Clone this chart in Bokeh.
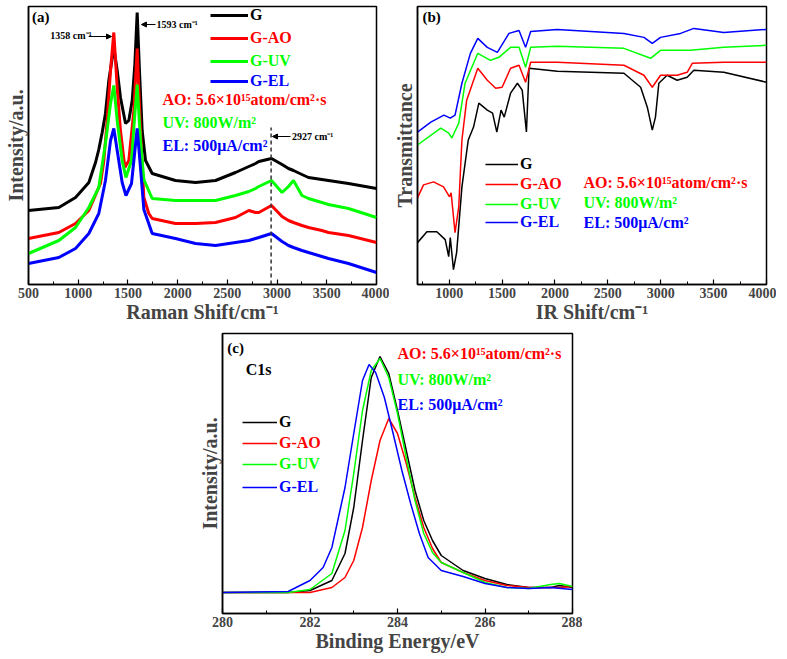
from bokeh.plotting import figure
from bokeh.models import (Legend, LegendItem, Label, Arrow, NormalHead, FixedTicker,
                          SingleIntervalTicker, Spacer)
from bokeh.layouts import row, column
from bokeh.embed import file_html
from bokeh.resources import INLINE

FONT = "Liberation Serif"

series_names = ["G", "G-AO", "G-UV", "G-EL"]
series_colors = ["#000000", "#ff0000", "#00ff00", "#0000ff"]

# ---------------- (a) Raman ----------------
raman_tail_x = [1978, 2180, 2381, 2582, 2716, 2783, 2817, 2944, 3050, 3115, 3165,
                3250, 3316, 3450, 3517, 3718, 4000]

raman_x_G = [500, 805, 973, 1107, 1174, 1207, 1241, 1274, 1308, 1358, 1392, 1425, 1476, 1509,
             1543, 1570, 1593, 1616, 1643, 1677, 1744] + raman_tail_x
raman_G = [74, 77, 87, 102, 122, 135, 152, 171, 204, 237, 214, 187, 161, 164,
           184, 221, 272, 214, 154, 124, 111,
           104, 102, 104, 112, 118, 121, 123, 126, 120, 116, 114, 110, 107, 105, 104, 101, 96]

raman_x_AO = [500, 805, 973, 1107, 1224, 1258, 1291, 1325, 1358, 1392, 1425, 1469, 1509, 1560,
              1593, 1626, 1660, 1710, 1744] + raman_tail_x
raman_AO = [46, 52, 61, 74, 101, 124, 164, 214, 252, 197, 154, 117, 124, 174,
            236, 154, 87, 71, 66,
            61, 61, 62, 67, 74, 72, 72, 79, 68, 64, 62, 59, 57, 54, 52, 49, 42]

raman_x_UV = [500, 805, 973, 1107, 1207, 1274, 1325, 1358, 1392, 1442, 1480, 1536, 1570, 1593,
              1626, 1660, 1744] + raman_tail_x
raman_UV = [31, 44, 57, 77, 97, 141, 181, 199, 164, 124, 107, 124, 171, 200,
            144, 105, 86,
            84, 84, 84, 89, 93, 96, 98, 104, 92, 98, 104, 89, 86, 82, 80, 76, 67]

raman_x_EL = [500, 805, 973, 1107, 1207, 1274, 1325, 1358, 1392, 1442, 1480, 1536, 1570, 1593,
              1626, 1660, 1744] + raman_tail_x
raman_EL = [21, 27, 36, 51, 71, 104, 144, 156, 134, 102, 89, 101, 134, 156,
            117, 75, 51,
            46, 41, 39, 42, 44, 46, 47, 51, 43, 39, 37, 34, 32, 28, 26, 21, 12]

raman_marker_x = 2940
raman_marker_top = 157

# ---------------- (b) IR ----------------
ir_x_G = [700, 789, 883, 962, 995, 1010, 1040, 1070, 1120, 1180, 1230, 1280, 1360, 1410, 1450,
          1490, 1520, 1580, 1645, 1690, 1730, 1755, 2022, 2652, 2810, 2873, 2920, 2950, 2982,
          3060, 3155, 3250, 3313, 3596, 4000]
ir_G = [42, 53, 53, 45, 28, 47, 15, 32, 98, 145, 158, 182, 175, 172, 153,
        175, 168, 192, 202, 195, 153, 217, 214, 212, 198, 178, 155, 168, 202,
        210, 205, 208, 215, 213, 203]
ir_x_AO = [700, 757, 852, 946, 1003, 1018, 1055, 1090, 1120, 1165, 1270, 1360, 1440, 1500,
           1580, 1660, 1722, 1770, 2022, 2652, 2841, 2920, 2998, 3155, 3250, 3298, 3596, 4000]
ir_AO = [87, 100, 103, 98, 88, 92, 52, 78, 145, 185, 217, 205, 197, 198,
         217, 220, 203, 223, 223, 220, 210, 198, 210, 210, 213, 222, 223, 223]
ir_x_UV = [700, 920, 995, 1025, 1090, 1150, 1270, 1390, 1470, 1580, 1660, 1722, 1770, 2022,
           2652, 2904, 2998, 3282, 3596, 4000]
ir_UV = [140, 157, 152, 147, 162, 202, 232, 225, 228, 238, 238, 218, 238, 239,
         237, 227, 235, 235, 238, 240]
ir_x_EL = [700, 826, 950, 1010, 1055, 1120, 1200, 1270, 1360, 1455, 1565, 1660, 1722, 1770,
           2022, 2652, 2841, 2920, 2998, 3187, 3313, 3596, 4000]
ir_EL = [153, 163, 170, 167, 170, 202, 232, 247, 238, 233, 252, 255, 238, 254,
         256, 252, 248, 242, 248, 252, 257, 253, 256]

# ---------------- (c) XPS C1s ----------------
xps_x = [280, 281.5, 282, 282.5, 282.8, 283, 283.2, 283.4, 283.6, 283.8, 284, 284.2, 284.4,
         284.6, 284.8, 285, 285.5, 286, 286.5, 287, 287.5, 287.7, 288]
xps_G = [21, 21, 23, 33, 60, 106, 173, 236, 257, 240, 203, 163, 123,
         93, 73, 58, 43, 35, 29, 26, 26, 28, 26]
xps_AO = [21, 21, 21, 26, 36, 53, 86, 133, 173, 195, 180, 150, 116,
          86, 65, 51, 41, 33, 28, 26, 26, 26, 27]
xps_UV = [21, 21, 24, 40, 83, 140, 203, 243, 255, 236, 200, 156, 113,
          80, 61, 51, 41, 31, 26, 25, 29, 30, 27]
xps_x_EL = [280, 281.5, 282, 282.3, 282.5, 282.8, 283, 283.2, 283.35, 283.5, 283.7, 283.9,
            284.1, 284.3, 284.5, 284.7, 285, 285.5, 286, 286.5, 287, 287.5, 288]
xps_EL = [21, 22, 33, 46, 66, 126, 180, 233, 249, 241, 216, 180,
          143, 110, 80, 56, 43, 37, 30, 26, 25, 26, 24]

cond_texts = ["AO: 5.6×10¹⁵atom/cm²·s", "UV: 800W/m²", "EL: 500μA/cm²"]
cond_colors = ["#ff0000", "#00ff00", "#0000ff"]


def style(p, xlabel, ylabel, interval):
    p.xgrid.visible = False
    p.ygrid.visible = False
    p.outline_line_color = "black"
    p.outline_line_width = 1.5
    p.outline_line_alpha = 1
    p.background_fill_color = "white"
    p.border_fill_color = "white"
    xa = p.xaxis[0]
    xa.ticker = SingleIntervalTicker(interval=interval, num_minor_ticks=2)
    xa.axis_label = xlabel
    xa.axis_label_text_font = FONT
    xa.axis_label_text_font_style = "bold"
    xa.axis_label_text_font_size = "20px"
    xa.axis_label_standoff = 0
    xa.major_label_text_font = FONT
    xa.major_label_text_font_style = "bold"
    xa.major_label_text_font_size = "14px"
    xa.major_label_standoff = 3
    xa.major_tick_in = 5
    xa.major_tick_out = 0
    xa.minor_tick_in = 3
    xa.minor_tick_out = 0
    xa.axis_line_width = 1.5
    xa.major_tick_line_width = 1.2
    ya = p.yaxis[0]
    ya.ticker = FixedTicker(ticks=[], minor_ticks=[])
    ya.axis_label = ylabel
    ya.axis_label_text_font = FONT
    ya.axis_label_text_font_style = "bold"
    ya.axis_label_text_font_size = "20px"
    ya.axis_label_standoff = 2
    ya.major_label_text_font_size = "0px"
    ya.major_label_standoff = 0
    ya.axis_line_width = 1.5


def add_legend(p, renderer, label, color, x, y, glyph_w):
    lg = Legend(items=[LegendItem(label=label, renderers=[renderer])], location=(x, y),
                label_text_color=color, label_text_font=FONT, label_text_font_style="bold",
                label_text_font_size="16px", glyph_width=glyph_w, glyph_height=20,
                label_height=20, label_standoff=2, padding=0, margin=0, spacing=0,
                border_line_alpha=0, background_fill_alpha=0)
    p.add_layout(lg, "center")


def label(p, x, y, text, color="black", size="16px"):
    p.add_layout(Label(x=x, y=y, text=text, text_color=color, text_font=FONT,
                       text_font_style="bold", text_font_size=size,
                       text_baseline="middle", text_align="left"))


def arrow(p, x0, y0, x1, y1):
    p.add_layout(Arrow(end=NormalHead(size=5, fill_color="black", line_color="black"),
                       x_start=x0, y_start=y0, x_end=x1, y_end=y1,
                       line_color="black", line_width=1))


common = dict(output_backend="svg", toolbar_location=None)

# ---- panel a
pa = figure(width=389, height=326, x_range=(500, 4000), y_range=(0, 278),
            min_border_left=28, min_border_right=13, min_border_top=6, min_border_bottom=42,
            **common)
style(pa, "Raman Shift/cm⁻¹", "Intensity/a.u.", 500)
ra = []
for xs, ys, c in zip([raman_x_G, raman_x_AO, raman_x_UV, raman_x_EL],
                     [raman_G, raman_AO, raman_UV, raman_EL], series_colors):
    ra.append(pa.line(xs, ys, line_color=c, line_width=3))
pa.segment(x0=[raman_marker_x], y0=[0], x1=[raman_marker_x], y1=[raman_marker_top],
           line_color="#333333", line_width=1.5, line_dash="4 3")
leg_y_a = [259, 236, 213, 193]
for r, n, c, ly in zip(ra, series_names, series_colors, leg_y_a):
    add_legend(pa, r, n, c, 182, ly, 38)
for t, c, yy in zip(cond_texts, cond_colors, [185, 162, 139]):
    label(pa, 1848, yy, t, c)
label(pa, 535, 268, "(a)", size="15px")
label(pa, 720, 249, "1358 cm⁻¹", size="10px")
arrow(pa, 1105, 248, 1335, 248)
arrow(pa, 1777, 260, 1636, 260)
label(pa, 1787, 260, "1593 cm⁻¹", size="10px")
arrow(pa, 3135, 148, 2954, 148)
label(pa, 3150, 148, "2927 cm⁻¹", size="10px")

# ---- panel b
pb = figure(width=387, height=326, x_range=(700, 4000), y_range=(0, 279),
            min_border_left=28, min_border_right=10, min_border_top=6, min_border_bottom=42,
            **common)
style(pb, "IR Shift/cm⁻¹", "Transmittance", 500)
rb = []
for xs, ys, c in zip([ir_x_G, ir_x_AO, ir_x_UV, ir_x_EL], [ir_G, ir_AO, ir_UV, ir_EL],
                     series_colors):
    rb.append(pb.line(xs, ys, line_color=c, line_width=1.5))
for r, n, c, ly in zip(rb, series_names, series_colors, [110, 90, 70, 52]):
    add_legend(pb, r, n, c, 68, ly, 33)
for t, c, yy in zip(cond_texts, cond_colors, [102, 82, 62]):
    label(pb, 2270, yy, t, c)
label(pb, 747, 268, "(b)", size="15px")

# ---- panel c
pc = figure(width=388, height=329, x_range=(280, 288), y_range=(0, 280),
            min_border_left=28, min_border_right=10, min_border_top=7, min_border_bottom=42,
            **common)
style(pc, "Binding Energy/eV", "Intensity/a.u.", 2)
rc = []
for xs, ys, c in zip([xps_x, xps_x, xps_x, xps_x_EL], [xps_G, xps_AO, xps_UV, xps_EL],
                     series_colors):
    rc.append(pc.line(xs, ys, line_color=c, line_width=1.5))
for r, n, c, ly in zip(rc, series_names, series_colors, [181, 160, 139, 116]):
    add_legend(pc, r, n, c, 20, ly, 35)
for t, c, yy in zip(cond_texts, cond_colors, [260, 234, 209]):
    label(pc, 284.0, yy, t, c)
label(pc, 280.11, 266, "(c)", size="15px")
label(pc, 280.53, 244, "C1s")

layout = column(row(pa, pb), row(Spacer(width=194, height=329), pc))
open("out.html", "w").write(file_html(layout, INLINE))
